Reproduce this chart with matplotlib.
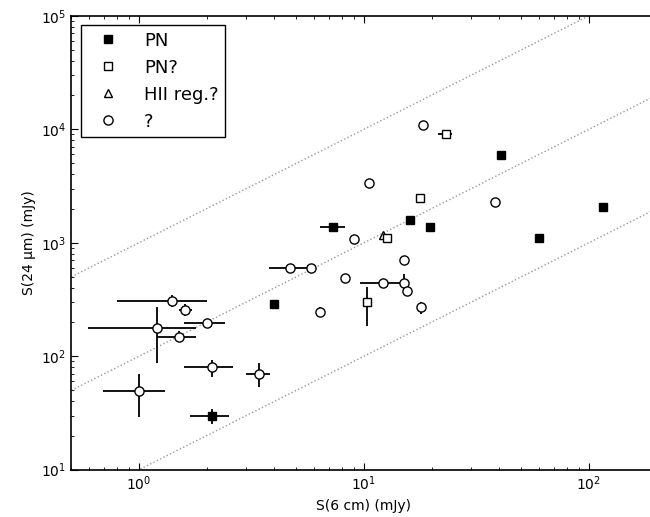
import matplotlib
matplotlib.use("Agg")
import matplotlib.pyplot as plt
import numpy as np

# PN (filled squares)
pn_x = [2.10, 3.99, 7.30, 16.0, 19.7, 40.5, 60.0, 115.0]
pn_y = [29.8, 287, 1390, 1592, 1390, 5960, 1097, 2056]
pn_xlo = [1.69, 3.99, 6.37, 16.0, 19.7, 40.5, 60.0, 112.0]
pn_xhi = [2.51, 3.99, 8.23, 16.0, 19.7, 40.5, 60.0, 118.0]
pn_ylo = [25.3, 287, 1390, 1592, 1390, 5960, 1097, 1870]
pn_yhi = [34.5, 287, 1390, 1592, 1390, 5960, 1097, 2260]

# PN? (open squares)
pnq_x = [23.1, 17.7, 12.6, 10.3]
pnq_y = [9120, 2470, 1097, 299]
pnq_xlo = [21.4, 17.7, 12.6, 10.3]
pnq_xhi = [24.5, 17.7, 12.6, 10.3]
pnq_ylo = [9120, 2470, 1097, 186]
pnq_yhi = [9120, 2470, 1097, 411]

# HII reg.? (open triangle)
hii_x = [12.2]
hii_y = [1175]

# ? (open circles)
q_x = [18.2, 10.5, 38.2, 9.03, 15.1, 4.69, 5.80, 8.23, 12.1, 15.0, 15.5, 17.9,
       6.37, 1.40, 1.60, 1.20, 2.00, 1.50, 2.10, 3.40, 1.00]
q_y = [10800, 3375, 2280, 1082, 711, 596, 596, 486, 440, 440, 372, 270,
       247, 309, 256, 178, 197, 149, 79.8, 69.8, 49.8]
q_xlo = [18.2, 10.5, 38.2, 9.03, 15.1, 3.78, 5.80, 8.23, 9.6, 15.0, 15.0, 17.9,
         6.37, 0.796, 1.50, 0.595, 1.59, 1.20, 1.59, 2.98, 0.694]
q_xhi = [18.2, 10.5, 38.2, 9.03, 15.1, 5.81, 5.80, 8.23, 15.0, 15.0, 16.0, 17.9,
         6.37, 2.00, 1.72, 1.80, 2.42, 1.80, 2.61, 3.82, 1.30]
q_ylo = [10800, 3375, 2280, 1082, 711, 596, 596, 486, 440, 372, 345, 236,
         220, 274, 228, 86.5, 197, 133, 65.2, 53.2, 29.3]
q_yhi = [10800, 3375, 2280, 1082, 711, 596, 596, 486, 440, 525, 400, 299,
         274, 344, 289, 273, 197, 168, 92.7, 86.5, 69.8]

ratios = [10, 100, 1000]
xlim = (0.5, 200)
ylim = (10, 1e5)

plt.rcParams['font.family'] = ['DejaVu Sans']
fig = plt.figure(figsize=(6.5, 5.17), dpi=100)
ax = fig.add_axes([0.1097, 0.0915, 0.9006, 0.878])
ax.set_xscale('log')
ax.set_yscale('log')

xs = np.array(xlim)
for r in ratios:
    ax.plot(xs, r * xs, linestyle=':', color='#999999', lw=1.0, zorder=1)

def err(x, y, xlo, xhi, ylo, yhi):
    x = np.array(x); y = np.array(y)
    xe = [x - np.array(xlo), np.array(xhi) - x]
    ye = [y - np.array(ylo), np.array(yhi) - y]
    ax.errorbar(x, y, xerr=xe, yerr=ye, fmt='none', ecolor='black',
                elinewidth=1.3, capsize=0, zorder=2)

err(q_x, q_y, q_xlo, q_xhi, q_ylo, q_yhi)
err(pn_x, pn_y, pn_xlo, pn_xhi, pn_ylo, pn_yhi)
err(pnq_x, pnq_y, pnq_xlo, pnq_xhi, pnq_ylo, pnq_yhi)

ax.plot(pn_x, pn_y, 's', ms=6.2, mfc='black', mec='black', mew=1.0,
        linestyle='none', label='PN', zorder=4)
ax.plot(pnq_x, pnq_y, 's', ms=6.2, mfc='white', mec='black', mew=1.0,
        linestyle='none', label='PN?', zorder=4)
ax.plot(hii_x, hii_y, '^', ms=6.2, mfc='white', mec='black', mew=1.0,
        linestyle='none', label='HII reg.?', zorder=3)
ax.plot(q_x, q_y, 'o', ms=6.6, mfc='white', mec='black', mew=1.0,
        linestyle='none', label='?', zorder=4)

ax.set_xlim(*xlim)
ax.set_ylim(*ylim)
ax.set_xlabel('S(6 cm) (mJy)', fontsize=10)
ax.set_ylabel('S(24 μm) (mJy)', fontsize=10)
ax.tick_params(which='both', direction='in', top=True, right=True, labelsize=10)
ax.tick_params(which='major', length=5)
ax.tick_params(which='minor', length=2.5)
for s in ax.spines.values():
    s.set_linewidth(1.2)

leg = ax.legend(loc='upper left', fontsize=13, numpoints=1, fancybox=False,
                framealpha=1, edgecolor='black', borderaxespad=0.52,
                handlelength=2.3, handletextpad=0.85, labelspacing=0.5,
                borderpad=0.36)
leg.get_frame().set_linewidth(1.0)

fig.savefig('out.png', dpi=100)
